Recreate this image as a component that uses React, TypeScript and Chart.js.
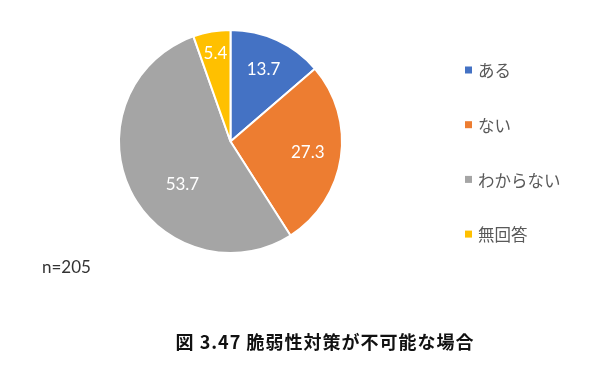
import React, { useEffect, useRef } from "react";
import { Chart, registerables } from "chart.js";

Chart.register(...registerables);

const categories = ["ある", "ない", "わからない", "無回答"];
const values = [13.7, 27.3, 53.7, 5.4];
const colors = ["#4472C4", "#ED7D31", "#A5A5A5", "#FFC000"];
const sampleNote = "n=205";
const figureTitle = "図 3.47 脆弱性対策が不可能な場合";

// label placement tweaks (angle shift in degrees, radius fraction)
const labelPlacement = [
  { shift: 0, frac: 0.71 },
  { shift: 0, frac: 0.7 },
  { shift: -16, frac: 0.58 },
  { shift: 0, frac: 0.8 },
];

const overlayPlugin = {
  id: "overlay",
  afterDatasetsDraw(chart: any) {
    const ctx = chart.ctx;
    const meta = chart.getDatasetMeta(0);
    ctx.save();
    ctx.fillStyle = "#ffffff";
    ctx.font = "17px Lato, 'Noto Sans', sans-serif";
    ctx.textAlign = "center";
    ctx.textBaseline = "middle";
    meta.data.forEach((arc: any, i: number) => {
      const p = arc.getProps(["x", "y", "startAngle", "endAngle", "outerRadius"], true);
      const pl = labelPlacement[i];
      const mid = (p.startAngle + p.endAngle) / 2 + (pl.shift * Math.PI) / 180;
      const r = p.outerRadius * pl.frac;
      const text = chart.data.datasets[0].data[i].toFixed(1);
      ctx.fillText(text, p.x + Math.cos(mid) * r, p.y + Math.sin(mid) * r);
    });

    // legend
    const legendX = 465;
    const legendY0 = 70;
    const legendStep = 54.7;
    ctx.textAlign = "left";
    ctx.font = "16.5px 'Noto Sans CJK JP', sans-serif";
    chart.data.labels.forEach((lab: string, i: number) => {
      const y = legendY0 + i * legendStep;
      ctx.fillStyle = colors[i];
      ctx.fillRect(legendX, y - 3.5, 7, 7);
      ctx.fillStyle = "#595959";
      ctx.fillText(lab, legendX + 13, y + 1);
    });

    // n note
    ctx.fillStyle = "#333333";
    ctx.font = "17px Lato, 'Noto Sans', sans-serif";
    ctx.fillText(sampleNote, 42, 268);

    // title
    ctx.fillStyle = "#111111";
    ctx.textAlign = "center";
    ctx.font = "bold 18px 'Noto Sans CJK JP', sans-serif";
    try {
      (ctx as any).letterSpacing = "1px";
    } catch (e) {}
    ctx.fillText(figureTitle, 325, 342);
    ctx.restore();
  },
};

export default function App() {
  const ref = useRef<HTMLCanvasElement | null>(null);
  useEffect(() => {
    if (!ref.current) return;
    const chart = new Chart(ref.current, {
      type: "pie",
      data: {
        labels: categories,
        datasets: [
          {
            data: values,
            backgroundColor: colors,
            borderColor: "#ffffff",
            borderWidth: 2,
          },
        ],
      },
      options: {
        animation: false,
        responsive: false,
        layout: { padding: { left: 118, right: 247, top: 29, bottom: 126 } },
        plugins: {
          legend: { display: false },
          tooltip: { enabled: false },
        },
      },
      plugins: [overlayPlugin],
    });
    return () => chart.destroy();
  }, []);
  return (
    <div style={{ position: "fixed", left: 0, top: 0, width: 590, height: 380, background: "#fff" }}>
      <canvas ref={ref} width={590} height={380} style={{ width: 590, height: 380 }} />
    </div>
  );
}
